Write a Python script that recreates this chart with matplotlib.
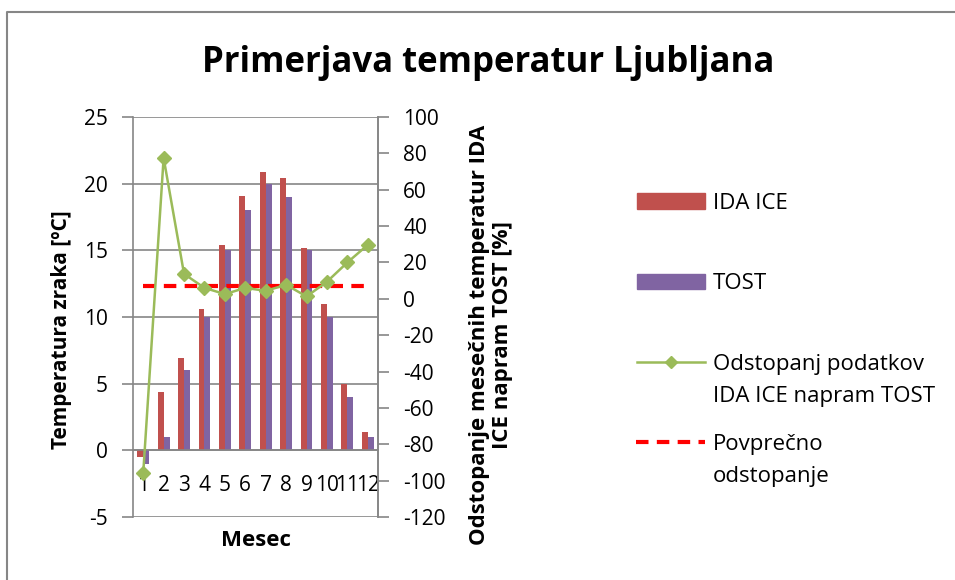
import matplotlib
matplotlib.use("Agg")
import matplotlib.pyplot as plt
from matplotlib.lines import Line2D
from matplotlib.patches import Rectangle
import numpy as np

plt.rcParams['font.family'] = ['Open Sans', 'DejaVu Sans']
plt.rcParams['axes.unicode_minus'] = False

# Data
months = [1, 2, 3, 4, 5, 6, 7, 8, 9, 10, 11, 12]
month_labels = ["1", "2", "3", "4", "5", "6", "7", "8", "9", "10", "11", "12"]
ida_ice = [-0.5, 4.4, 6.9, 10.6, 15.4, 19.1, 20.9, 20.4, 15.2, 11.0, 5.0, 1.4]
tost = [-1.0, 1.0, 6.0, 10.0, 15.0, 18.0, 20.0, 19.0, 15.0, 10.0, 4.0, 1.0]
deviation = [-96, 77.5, 13.7, 6.0, 2.6, 6.0, 4.4, 7.7, 1.3, 9.4, 20.0, 29.7]
avg_deviation = 6.8

RED = "#C0504D"
PURPLE = "#8064A2"
GREEN = "#9BBB59"
GRID = "#868686"

W, H = 955, 580
fig = plt.figure(figsize=(W / 100, H / 100), dpi=100)


def fx(px):
    return px / W


def fy(py):
    return 1 - py / H


# plot area in pixels: x 133..378, y 117..517
ax = fig.add_axes([fx(133), fy(517), fx(378) - fx(133), fy(117) - fy(517)])
ax2 = ax.twinx()

x = np.array(months)
bw = 0.29
ax.bar(x - bw / 2, ida_ice, width=bw, color=RED, zorder=2)
ax.bar(x + bw / 2, tost, width=bw, color=PURPLE, zorder=2)

ax.spines['bottom'].set_position(('data', 0))
ax.set_xlim(0.5, 12.5)
ax.set_ylim(-5, 25)
ax.set_yticks(np.arange(-5, 26, 5))
ax.yaxis.grid(True, color=GRID, linewidth=1.2, zorder=0)
ax.set_axisbelow(True)

ax.set_xticks(months)
ax.set_xticklabels(month_labels)
ax.tick_params(axis='x', length=0, pad=18, labelsize=15)
ax.tick_params(axis='y', direction='out', length=8, width=1.2, color=GRID,
               labelsize=15, pad=10)
for s in ['bottom', 'left', 'right']:
    ax.spines[s].set_color(GRID)
    ax.spines[s].set_linewidth(1.2)
ax.spines['top'].set_visible(False)

# right axis: deviation
ax2.plot(months, [avg_deviation] * len(months), color="#FF0000",
         linestyle=(0, (3, 2)), linewidth=3, zorder=3)
ax2.plot(months, deviation, color=GREEN, linewidth=1.8, marker='D',
         markersize=7, zorder=4)
ax2.set_ylim(-120, 100)
ax2.set_yticks(np.arange(-120, 101, 20))
ax2.tick_params(axis='y', direction='out', length=8, width=1.2, color=GRID,
                labelsize=15, pad=10)
for s in ['bottom', 'left', 'right', 'top']:
    ax2.spines[s].set_visible(False)
ax2.spines['right'].set_visible(True)
ax2.spines['right'].set_color(GRID)
ax2.spines['right'].set_linewidth(1.2)

# titles and axis labels
fig.text(fx(488), fy(72), "Primerjava temperatur Ljubljana", fontsize=25,
         fontweight='bold', ha='center', va='baseline')
fig.text(fx(62), fy(330), "Temperatura zraka [ºC]", fontsize=15,
         fontweight='bold', rotation=90, ha='center', va='center')
fig.text(fx(256), fy(540), "Mesec", fontsize=16, fontweight='bold',
         ha='center', va='center')
fig.text(fx(491), fy(335), "Odstopanje mesečnih temperatur IDA\nICE napram TOST [%]",
         fontsize=16, fontweight='bold', rotation=90, ha='center', va='center',
         linespacing=1.15)

# legend drawn by hand to match the layout
fig.add_artist(Rectangle((fx(637), fy(209)), fx(705) - fx(637), fy(193) - fy(209),
                         color=RED, transform=fig.transFigure))
fig.add_artist(Rectangle((fx(637), fy(289)), fx(705) - fx(637), fy(274) - fy(289),
                         color=PURPLE, transform=fig.transFigure))
fig.add_artist(Line2D([fx(637), fx(705)], [fy(362), fy(362)], color=GREEN,
                      linewidth=1.8, transform=fig.transFigure))
fig.add_artist(Line2D([fx(671)], [fy(362)], color=GREEN, marker='D',
                      markersize=6, transform=fig.transFigure))
fig.add_artist(Line2D([fx(636), fx(705)], [fy(442), fy(442)], color="#FF0000",
                      linestyle=(0, (3, 2)), linewidth=3, transform=fig.transFigure))

legend_lines = [
    ("IDA ICE", 209),
    ("TOST", 289),
    ("Odstopanj podatkov", 370),
    ("IDA ICE napram TOST", 402),
    ("Povprečno", 450),
    ("odstopanje", 482),
]
for txt, base in legend_lines:
    fig.text(fx(713), fy(base), txt, fontsize=16, ha='left', va='baseline')

# outer chart border (left and top edges visible)
fig.add_artist(Line2D([fx(7), fx(7), fx(960)], [fy(590), fy(12), fy(12)],
                      color=GRID, linewidth=1.5, transform=fig.transFigure))

fig.savefig("out.png", dpi=100)
